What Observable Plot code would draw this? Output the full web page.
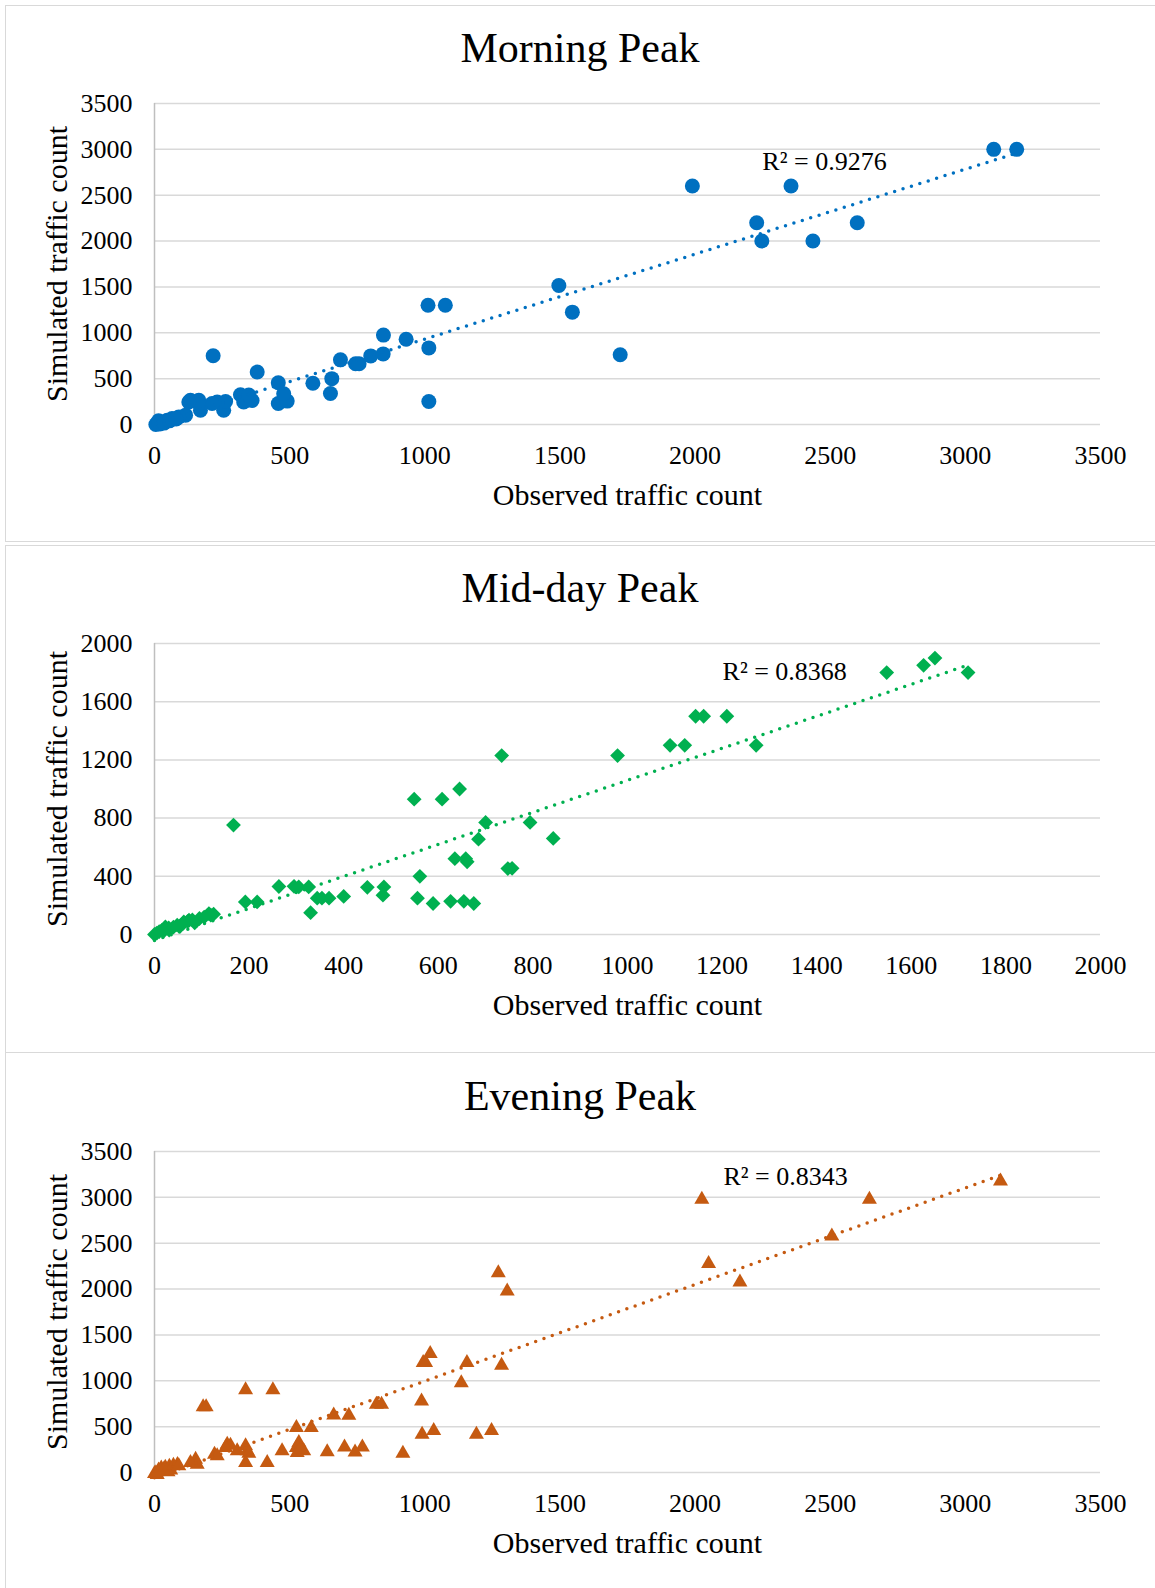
<!DOCTYPE html>
<html>
<head>
<meta charset="utf-8">
<script src="https://cdn.jsdelivr.net/npm/d3@7"></script>
<script src="https://cdn.jsdelivr.net/npm/@observablehq/plot@0.6"></script>
<style>
  html, body { margin: 0; padding: 0; background: #fff; }
  body { width: 1155px; height: 1588px; overflow: hidden; position: relative; font-family: "Liberation Serif", serif; }
  .panel { position: absolute; left: 5px; width: 1160px; border: 1px solid #d9d9d9; box-sizing: border-box; background: #fff; }
  .title { position: absolute; left: 5px; width: 1150px; text-align: center; font-size: 42px; line-height: 1; color: #000; white-space: nowrap; }
  .chart { position: absolute; left: 5px; }
  .chart svg { display: block; overflow: visible; }
</style>
</head>
<body>
<script>
// ---- Morning peak: observed vs simulated counts ----
const morningObserved = [3105, 3190, 1990, 2355, 2228, 2600, 2247, 2436, 1496, 1546, 1723, 1012, 1076, 1015, 1015,
  847, 931, 846, 800, 744, 757, 688, 656, 651, 586, 217, 380, 458, 458, 491, 478, 330, 361, 318, 349, 256, 263, 232,
  213, 170, 164, 133, 164, 127, 115, 90, 65, 47, 28, 10, 20, 5, 15, 35, 55, 80];
const morningSimulated = [3000, 3000, 2600, 2600, 2200, 2200, 2000, 2000, 1515, 1225, 760, 1300, 1300, 835, 250,
  975, 930, 770, 748, 662, 662, 705, 500, 338, 450, 750, 572, 455, 229, 255, 335, 245, 262, 325, 322, 155, 250, 245,
  229, 156, 229, 265, 265, 245, 102, 83, 65, 47, 28, 10, 5, 0, 40, 15, 40, 60];

// ---- Mid-day peak ----
const middayObserved = [1650, 1626, 1548, 1720, 1144, 1161, 1210, 1090, 1121, 1272, 979, 734, 645, 549, 608, 167,
  700, 794, 685, 843, 635, 658, 661, 747, 756, 561, 556, 589, 626, 654, 675, 450, 485, 483, 400, 344, 354, 369, 330,
  263, 295, 305, 326, 192, 217, 115, 119, 73, 62, 48, 23, 16, 0, 31, 55, 85,
  5, 10, 20, 30, 40, 60, 70, 80, 95, 105, 125];
const middaySimulated = [1900, 1850, 1800, 1800, 1500, 1500, 1500, 1300, 1300, 1300, 1230, 1230, 1000, 930, 930, 752,
  770, 770, 655, 660, 521, 521, 500, 453, 455, 400, 250, 213, 228, 228, 213, 324, 327, 270, 262, 250, 250, 250, 150,
  330, 331, 327, 327, 224, 224, 144, 133, 98, 86, 64, 52, 30, 0, 30, 60, 80,
  10, 20, 25, 45, 50, 75, 90, 100, 110, 120, 140];

// ---- Evening peak ----
const eveningObserved = [3130, 2025, 2645, 2506, 2050, 2166, 1272, 1305, 1020, 994, 1003, 1156, 1284, 1135, 988,
  337, 438, 180, 191, 821, 840, 663, 719, 525, 580, 990, 1033, 1191, 1247, 919, 703, 769, 742, 639, 472, 525, 534,
  552, 528, 540, 337, 343, 349, 306, 269, 281, 263, 337, 417, 222, 232, 152, 133, 158, 10, 20, 35, 50, 60, 0,
  5, 15, 25, 40, 55, 70, 85, 90];
const eveningSimulated = [3200, 3000, 3000, 2600, 2300, 2100, 2200, 2000, 1320, 1220, 1220, 1220, 1190, 1000, 802,
  925, 925, 740, 740, 765, 765, 648, 645, 512, 512, 440, 480, 440, 480, 232, 300, 300, 245, 247, 258, 295, 349,
  258, 240, 276, 313, 258, 232, 258, 330, 320, 295, 131, 131, 221, 204, 167, 131, 113, 0, 40, 60, 30, 50, 10,
  20, 50, 70, 80, 90, 100, 110, 95];

// ---- Titles, tick values and fit statistics ----
const panelTitles = ["Morning Peak", "Mid-day Peak", "Evening Peak"];
const xAxisTitle = "Observed traffic count";
const yAxisTitle = "Simulated traffic count";
const ticks3500 = [0, 500, 1000, 1500, 2000, 2500, 3000, 3500];
const xTicks2000 = [0, 200, 400, 600, 800, 1000, 1200, 1400, 1600, 1800, 2000];
const yTicks2000 = [0, 400, 800, 1200, 1600, 2000];
const rSquaredLabels = ["R\u00B2 = 0.9276", "R\u00B2 = 0.8368", "R\u00B2 = 0.8343"];

// Marker shapes: a square turned on its corner, and a triangle centred on its box
const diamondMarker = {
  draw(ctx, size) {
    const r = Math.sqrt(size / Math.PI);
    ctx.moveTo(0, -r); ctx.lineTo(r, 0); ctx.lineTo(0, r); ctx.lineTo(-r, 0); ctx.closePath();
  }
};
const triangleMarker = {
  draw(ctx, size) {
    const r = Math.sqrt(size / Math.PI);
    const h = r * Math.sqrt(3) / 2;
    ctx.moveTo(0, -h); ctx.lineTo(r, h); ctx.lineTo(-r, h); ctx.closePath();
  }
};

const pairs = (xs, ys) => xs.map((x, i) => ({observed: x, simulated: ys[i]}));
const plain = d3.format("d");

const panels = [
  {
    box: {top: 5, height: 537}, titleTop: 27, chartTop: 80,
    svgHeight: 460, marginTop: 23, marginBottom: 116,
    data: pairs(morningObserved, morningSimulated),
    xDomain: [0, 3500], yDomain: [0, 3500], xTicks: ticks3500, yTicks: ticks3500,
    color: "#0070C0", symbol: "circle", r: 7.5,
    label: {observed: 2249, simulated: 2870}
  },
  {
    box: {top: 545, height: 508}, titleTop: 567, chartTop: 610,
    svgHeight: 440, marginTop: 33, marginBottom: 116,
    data: pairs(middayObserved, middaySimulated),
    xDomain: [0, 2000], yDomain: [0, 2000], xTicks: xTicks2000, yTicks: yTicks2000,
    color: "#00B050", symbol: diamondMarker, r: 7.4,
    label: {observed: 1201, simulated: 1806}
  },
  {
    box: {top: 1052, height: 560}, titleTop: 1075, chartTop: 1120,
    svgHeight: 460, marginTop: 31, marginBottom: 108,
    data: pairs(eveningObserved, eveningSimulated),
    xDomain: [0, 3500], yDomain: [0, 3500], xTicks: ticks3500, yTicks: ticks3500,
    color: "#C55A11", symbol: triangleMarker, r: 7.5,
    label: {observed: 2105, simulated: 3228}
  }
];

panels.forEach((p, i) => {
  const box = document.createElement("div");
  box.className = "panel";
  box.style.top = p.box.top + "px";
  box.style.height = p.box.height + "px";
  document.body.appendChild(box);

  const title = document.createElement("div");
  title.className = "title";
  title.style.top = p.titleTop + "px";
  title.textContent = panelTitles[i];
  document.body.appendChild(title);

  const chart = Plot.plot({
    width: 1150,
    height: p.svgHeight,
    marginLeft: 149,
    marginRight: 55,
    marginTop: p.marginTop,
    marginBottom: p.marginBottom,
    style: {fontFamily: "'Liberation Serif', serif", fontSize: "26px", color: "#000", background: "none", overflow: "visible"},
    x: {domain: p.xDomain},
    y: {domain: p.yDomain},
    marks: [
      Plot.gridY(p.yTicks, {stroke: "#d9d9d9", strokeOpacity: 1, strokeWidth: 1.5}),
      Plot.ruleX([0], {stroke: "#bfbfbf", strokeWidth: 1.5}),
      Plot.axisX(p.xTicks, {tickSize: 0, tickPadding: 21, tickFormat: plain, label: null, fontSize: 26}),
      Plot.axisY(p.yTicks, {tickSize: 0, tickPadding: 22, tickFormat: plain, label: null, fontSize: 26}),
      Plot.dot(p.data, {x: "observed", y: "simulated", r: p.r, symbol: p.symbol, fill: p.color}),
      Plot.linearRegressionY(p.data, {
        x: "observed", y: "simulated", ci: 0,
        stroke: p.color, strokeWidth: 3.5, strokeDasharray: "0 8.8", strokeLinecap: "round"
      }),
      Plot.text([{...p.label, text: rSquaredLabels[i]}], {
        x: "observed", y: "simulated", text: "text", textAnchor: "start", fontSize: 26, fill: "#000"
      }),
      Plot.text([xAxisTitle], {text: d => d, frameAnchor: "bottom", dy: 80, fontSize: 30, fill: "#000"}),
      Plot.text([yAxisTitle], {
        text: d => d, frameAnchor: "left", textAnchor: "middle", rotate: -90, dx: -97, fontSize: 30, fill: "#000"
      })
    ]
  });

  const holder = document.createElement("div");
  holder.className = "chart";
  holder.style.top = p.chartTop + "px";
  holder.appendChild(chart);
  document.body.appendChild(holder);
});
</script>
</body>
</html>
